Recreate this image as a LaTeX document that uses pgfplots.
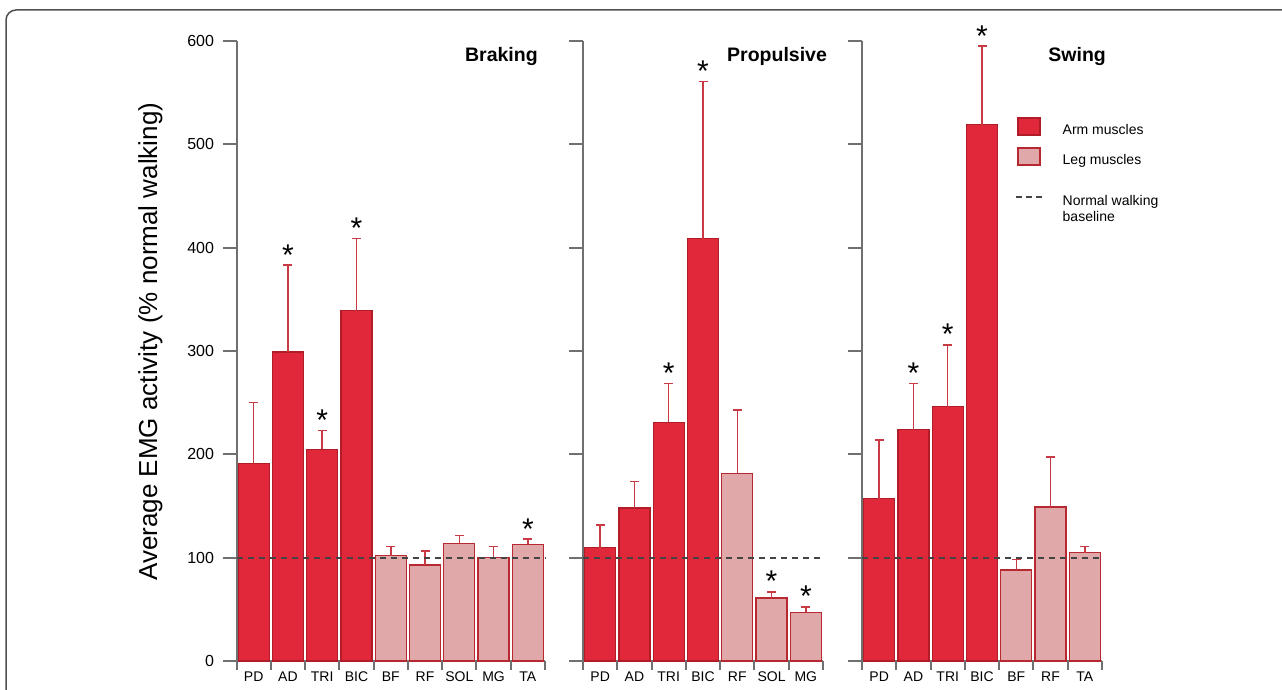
\documentclass[border=0pt]{standalone}
\usepackage{fontspec}
\setmainfont{Liberation Sans}
\usepackage{pgfplots}
\pgfplotsset{compat=1.18}
\definecolor{armred}{HTML}{E0283A}
\definecolor{armedge}{HTML}{B01C28}
\definecolor{legfill}{HTML}{E0A8A8}
\definecolor{legedge}{HTML}{B82830}
\definecolor{errred}{HTML}{C83A44}
\definecolor{axisgray}{HTML}{707070}
\definecolor{dashgray}{HTML}{444444}
\definecolor{framegray}{HTML}{505050}

\pgfplotsset{
 panel/.style={
  scale only axis, height=620pt, ymin=0, ymax=600, enlargelimits=false, clip=false,
  axis x line*=bottom, axis y line*=left,
  axis line style={draw=axisgray, line width=2pt, -},
  ytick={0,100,...,600},
  tick align=outside, major tick length=14pt, minor tick length=9pt,
  major tick style={draw=axisgray, line width=2pt},
  major x tick style={draw=none},
  minor x tick style={draw=axisgray, line width=2pt},
  /pgf/number format/assume math mode=true,
  yticklabel style={font=\fontsize{16}{19}\selectfont, xshift=-5pt},
  xticklabel style={font=\fontsize{14}{17}\selectfont, yshift=7pt},
  title style={font=\bfseries\fontsize{19.5}{23}\selectfont, anchor=east, inner sep=0pt},
  ybar, bar width=31pt,
 },
 armbar/.style={bar shift=0pt, fill=armred, draw=armedge, line width=1.2pt,
   error bars/.cd, y dir=plus, y explicit,
   error bar style={errred, line width=1.5pt},
   error mark options={errred, rotate=90, mark size=4.5pt, line width=1.5pt}},
 legbar/.style={bar shift=0pt, fill=legfill, draw=legedge, line width=1.2pt,
   error bars/.cd, y dir=plus, y explicit,
   error bar style={errred, line width=1.5pt},
   error mark options={errred, rotate=90, mark size=4.5pt, line width=1.5pt}},
 base/.style={sharp plot, bar shift=0pt, dashgray, line width=2pt, dash pattern=on 6pt off 5pt},
 star/.style={sharp plot, bar shift=0pt, draw=none, nodes near coords={*},
   every node near coord/.append style={font=\fontsize{30}{30}\selectfont, anchor=base, yshift=0pt, xshift=0pt, inner sep=0pt, text=black}},
}

\begin{document}
\begin{tikzpicture}[x=1pt,y=1pt]
\useasboundingbox (0,0) rectangle (1282,689);
\draw[framegray, line width=1.5pt, rounded corners=10pt] (6,-5) -- (6,679) -- (1295,679);

% Braking
\begin{axis}[panel, at={(236.5pt,28pt)}, anchor=south west, width=308.5pt,
  xmin=-0.5, xmax=8.5, xtick={0,...,8}, xticklabels={PD,AD,TRI,BIC,BF,RF,SOL,MG,TA},
  minor xtick={-0.5,0.5,...,8.5},
  title={Braking}, title style={at={(axis description cs:0.977,0.966)}},
  ylabel={Average EMG activity (\% normal walking)},
  ylabel style={at={(axis description cs:-0.2788,0.515)}, anchor=center, font=\fontsize{26}{30}\selectfont}]
\addplot[armbar] coordinates {(0,191) +- (0,59) (1,299) +- (0,84) (2,205) +- (0,18) (3,339) +- (0,70)};
\addplot[legbar] coordinates {(4,102) +- (0,9) (5,93) +- (0,13.5) (6,114) +- (0,7.5) (7,100.5) +- (0,10.5) (8,113) +- (0,5)};
\addplot[base] coordinates {(-0.5,100) (8.5,100)};
\addplot[star] coordinates {(1,383) (2,223) (3,409) (8,118)};
\end{axis}

% Propulsive
\begin{axis}[panel, at={(583pt,28pt)}, anchor=south west, width=240pt,
  xmin=-0.5, xmax=6.5, xtick={0,...,6}, xticklabels={PD,AD,TRI,BIC,RF,SOL,MG},
  minor xtick={-0.5,0.5,...,6.5}, yticklabels={},
  title={Propulsive}, title style={at={(axis description cs:1.017,0.966)}}]
\addplot[armbar] coordinates {(0,109.6) +- (0,22) (1,148) +- (0,25.5) (2,231) +- (0,37.5) (3,408.5) +- (0,152.5)};
\addplot[legbar] coordinates {(4,181.7) +- (0,61.3) (5,61) +- (0,6) (6,47) +- (0,5.5)};
\addplot[base] coordinates {(-0.5,100) (6.5,100)};
\addplot[star] coordinates {(2,268.5) (3,561) (5,67) (6,52.5)};
\end{axis}

% Swing
\begin{axis}[panel, at={(862pt,28pt)}, anchor=south west, width=240pt,
  xmin=-0.5, xmax=6.5, xtick={0,...,6}, xticklabels={PD,AD,TRI,BIC,BF,RF,TA},
  minor xtick={-0.5,0.5,...,6.5}, yticklabels={},
  title={Swing}, title style={at={(axis description cs:1.017,0.966)}},
  legend style={at={(axis description cs:0.6375,0.877)}, anchor=north west, draw=none, fill=none,
    inner sep=0pt, row sep=9pt, column sep=16pt, font=\fontsize{14}{16.5}\selectfont, cells={anchor=west}}]
\addlegendimage{legend image code/.code={\draw[fill=armred, draw=armedge, line width=1.2pt] (0pt,-4.5pt) rectangle (22pt,12.5pt);}}
\addlegendentry{Arm muscles}
\addlegendimage{legend image code/.code={\draw[fill=legfill, draw=legedge, line width=1.2pt] (0pt,-4.5pt) rectangle (22pt,12.5pt);}}
\addlegendentry{Leg muscles}
\addlegendimage{legend image code/.code={\draw[dashgray, line width=1.5pt, dash pattern=on 6pt off 4pt] (-2pt,-4pt) -- (26pt,-4pt);}}
\addlegendentry{\begin{tabular}[t]{@{}l@{}}\rule{0pt}{26pt}Normal walking\\baseline\end{tabular}}
\addplot[armbar] coordinates {(0,157) +- (0,57) (1,224) +- (0,44.5) (2,246) +- (0,60) (3,519) +- (0,76)};
\addplot[legbar] coordinates {(4,88) +- (0,10) (5,149) +- (0,48.5) (6,105) +- (0,5.8)};
\addplot[base] coordinates {(-0.5,100) (6.5,100)};
\addplot[star] coordinates {(1,268.5) (2,306) (3,595)};
\end{axis}
\end{tikzpicture}
\end{document}
